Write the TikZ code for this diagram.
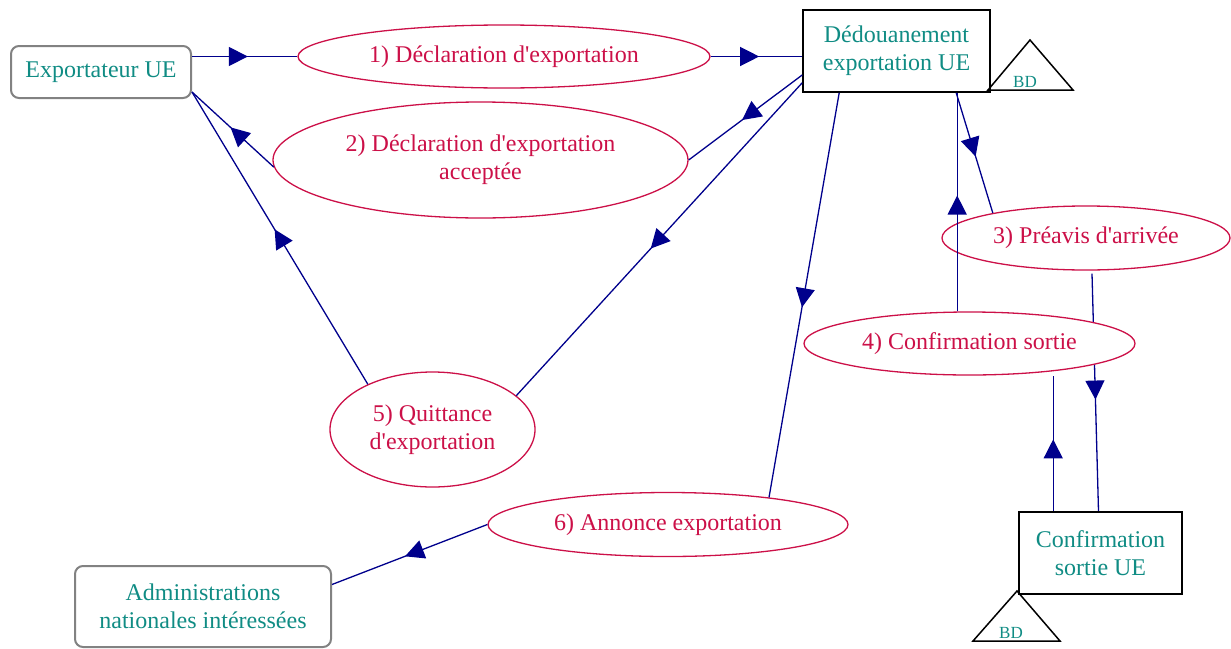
\documentclass[tikz,border=0pt]{standalone}
\usepackage{fontspec}
\setmainfont{Liberation Serif}[Ligatures=TeXOff]
\usetikzlibrary{shapes.geometric,arrows.meta,decorations.markings,calc}
\definecolor{boxtext}{RGB}{16,140,132}
\definecolor{msgline}{RGB}{204,16,72}
\definecolor{flow}{RGB}{0,0,140}
\definecolor{frame}{RGB}{130,130,130}
\pgfdeclarelayer{bg}
\pgfsetlayers{bg,main}
\tikzset{
  base/.style={font=\fontsize{24}{28}\selectfont, align=center, inner sep=0pt},
  actor/.style={base, draw=frame, line width=2pt, rounded corners=8pt, text=boxtext},
  office/.style={base, draw=black, line width=1.6pt, text=boxtext},
  message/.style={base, ellipse, draw=msgline, line width=1.3pt, text=msgline, fill=white},
  flowline/.style={draw=flow, line width=1.3pt, postaction={decorate},
    decoration={markings, mark=at position 0.53 with {\arrow{Triangle[length=19pt,width=19pt]}}}},
  bdmark/.style={draw=black, line width=1.5pt, line join=miter},
  bdtext/.style={font=\fontsize{17}{20}\selectfont, text=boxtext, inner sep=0pt}
}
\begin{document}
\begin{tikzpicture}[x=1pt,y=-1pt]
\useasboundingbox (0,0) rectangle (1231,648);

% actors and offices
\node[actor, minimum width=180, minimum height=52] (exp) at (101,72) {Exportateur UE};
\node[office, minimum width=187, minimum height=82] (ded) at (896.5,51) {Dédouanement\\exportation UE};
\node[office, minimum width=163, minimum height=82] (conf) at (1100.5,553) {Confirmation\\sortie UE};
\node[actor, minimum width=256, minimum height=81] (adm) at (203,606.5) {Administrations\\nationales intéressées};

% messages
\node[message, minimum width=412, minimum height=63] (e1) at (504,56.5) {1) Déclaration d'exportation};
\node[message, minimum width=415, minimum height=116] (e2) at (480.5,160) {2) Déclaration d'exportation\\acceptée};
\node[message, minimum width=288, minimum height=64] (e3) at (1086,238) {3) Préavis d'arrivée};
\node[message, minimum width=331, minimum height=63] (e4) at (969.5,343.5) {4) Confirmation sortie};
\node[message, minimum width=205, minimum height=115] (e5) at (432.5,429.5) {5) Quittance\\d'exportation};
\node[message, minimum width=360, minimum height=64] (e6) at (668,524.5) {6) Annonce exportation};

% database markers
\coordinate (bdA1) at (1030,40);
\coordinate (bdA2) at (988,90);
\coordinate (bdA3) at (1073,90);
\draw[bdmark] (bdA1) -- (bdA2) -- (bdA3) -- cycle;
\node[bdtext] (bdA) at (1025,81.5) {BD};
\coordinate (bdB1) at (1017,591);
\coordinate (bdB2) at (973,641);
\coordinate (bdB3) at (1060,641);
\draw[bdmark] (bdB1) -- (bdB2) -- (bdB3) -- cycle;
\node[bdtext] (bdB) at (1011,632.5) {BD};

% attachment points
\coordinate (expcorner) at ($(exp.south east)+(0,-7)$);
\coordinate (dedA) at ($(ded.west)+(0,24)$);
\coordinate (dedB) at ($(ded.south west)+(0,-10)$);
\coordinate (dedC) at ($(ded.south west)+(37,0)$);
\coordinate (dedD) at ($(ded.south west)+(154,0)$);
\coordinate (dedE) at ($(ded.south west)+(155,0)$);
\coordinate (confA) at ($(conf.north west)+(35,0)$);
\coordinate (confB) at ($(conf.north)+(-2,0)$);
\coordinate (admA) at ($(adm.east)+(0,-22)$);

% flows
\draw[flowline] (exp.east |- e1.west) -- (e1.west);
\draw[flowline] (e1.east) -- (ded.west |- e1.east);
\draw[flowline] (dedA) -- (e2.east);
\draw[flowline] (e2.182) -- (expcorner);
\draw[flowline] (dedB) -- (e5.22);
\draw[flowline] (e5.145) -- (expcorner);
\draw[flowline] (dedC) -- (e6.15);
\draw[flowline] (e6.west) -- (admA);
\draw[flowline] (dedD) -- (e3.165);
\draw[flowline] (dedE |- e4.north) -- (dedE);
\begin{pgfonlayer}{bg}
\draw[flowline] ($(e3.south)+(6,3)$) -- (confB);
\end{pgfonlayer}
\draw[flowline] (confA) -- (confA |- e4.south);
\end{tikzpicture}
\end{document}
